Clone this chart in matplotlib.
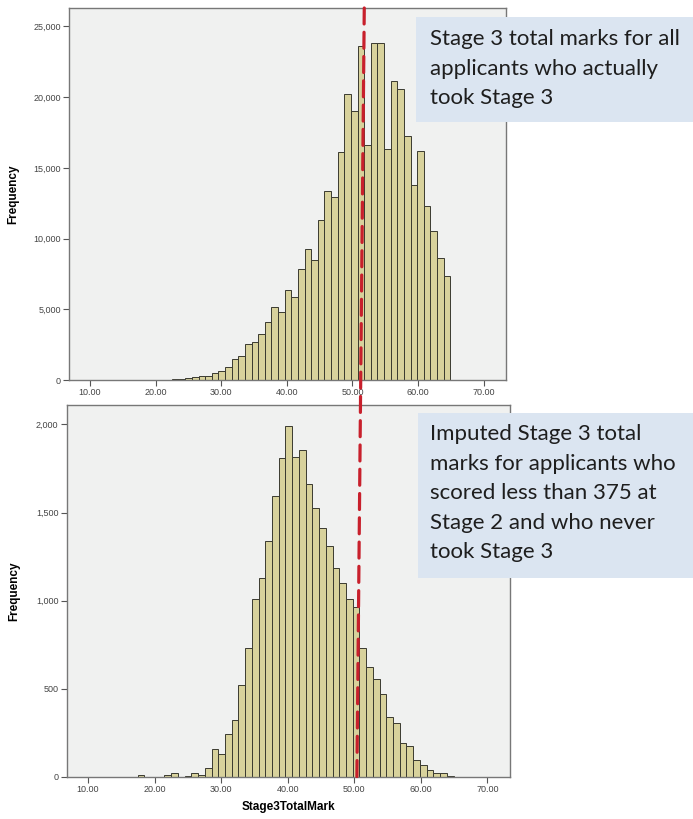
import numpy as np
import matplotlib
matplotlib.use("Agg")
import matplotlib.pyplot as plt
from matplotlib.patches import Rectangle, ConnectionPatch
from matplotlib.ticker import FuncFormatter

# bin labels (integer marks) and counts
marks = np.arange(18, 65)
took_stage3 = [30, 20, 20, 10, 20, 50, 80, 110, 180, 300, 300, 470, 640,
               900, 1460, 1720, 2530, 2660, 3260, 4080, 5190, 4840, 6330, 5900,
               7820, 9280, 8450, 11290, 13370, 12940, 16090, 20220, 19030,
               23620, 16600, 23860, 23860, 16320, 21140, 20550, 17240, 13770,
               16180, 12330, 10530, 8620, 7320]
imputed = [10, 0, 0, 0, 13, 23, 0, 6, 23, 10, 51, 161, 129,
           246, 322, 524, 732, 1012, 1126, 1338, 1595, 1807, 1990, 1813,
           1854, 1661, 1523, 1415, 1309, 1186, 1103, 1012, 965,
           734, 624, 556, 469, 341, 306, 195, 176, 98,
           66, 42, 23, 23, 6]
x_ticks = [10, 20, 30, 40, 50, 60, 70]
top_yticks = [0, 5000, 10000, 15000, 20000, 25000]
bot_yticks = [0, 500, 1000, 1500, 2000]
cutoff_top, cutoff_bottom = 51.8, 50.4   # dashed line drifts slightly

top_note = "Stage 3 total marks for all\napplicants who actually\ntook Stage 3"
bot_note = ("Imputed Stage 3 total\nmarks for applicants who\n"
            "scored less than 375 at\nStage 2 and who never\ntook Stage 3")

bin_w = 1.01
edges = 30.58 + (marks - 31) * bin_w

W, H = 693, 819
fig = plt.figure(figsize=(W / 100, H / 100), dpi=100)
fig.patch.set_facecolor("white")

def px(x0, y0, x1, y1):
    return [x0 / W, 1 - y1 / H, (x1 - x0) / W, (y1 - y0) / H]

ax1 = fig.add_axes(px(69, 8, 506, 380))
ax2 = fig.add_axes(px(66.7, 405, 510, 777))

comma = FuncFormatter(lambda v, p: f"{int(v):,}")
for ax, counts, yt, ytop in [(ax1, took_stage3, top_yticks, 26300),
                             (ax2, imputed, bot_yticks, 2110)]:
    ax.set_facecolor("#f0f1f0")
    ax.bar(edges, counts, width=bin_w, align="edge", color="#d8d29c",
           edgecolor="#3a3a30", linewidth=0.7)
    ax.set_xlim(6.8, 73.4)
    ax.set_ylim(0, ytop)
    ax.set_xticks(x_ticks)
    ax.set_xticklabels([f"{t:.2f}" for t in x_ticks])
    ax.set_yticks(yt)
    ax.yaxis.set_major_formatter(comma)
    ax.tick_params(length=4, width=0.8, color="#555555", labelsize=6.5,
                   labelcolor="#444444", pad=2)
    for s in ax.spines.values():
        s.set_color("#777777")
        s.set_linewidth(1.0)
    ax.set_ylabel("Frequency", fontsize=8.5, fontweight="bold",
                  family="Liberation Sans")
    for lab in ax.get_xticklabels() + ax.get_yticklabels():
        lab.set_family("Liberation Sans")

ax1.yaxis.set_label_coords(-0.114, 0.5)
ax2.yaxis.set_label_coords(-0.105, 0.5)
ax2.set_xlabel("Stage3TotalMark", fontsize=8.5, fontweight="bold",
               family="Liberation Sans", labelpad=5)

# red dashed cut-off line running through both panels
line = ConnectionPatch(xyA=(cutoff_top, 26300), coordsA=ax1.transData,
                       xyB=(cutoff_bottom, 0), coordsB=ax2.transData,
                       color="#c8202c", linewidth=2.3, linestyle=(0, (5, 2.6)),
                       zorder=10)
fig.add_artist(line)

# note boxes
for (x0, y0, x1, y1), note, ty in [((416, 17, 700, 122), top_note, 29),
                                   ((418, 413, 700, 578), bot_note, 424)]:
    fig.add_artist(Rectangle((x0 / W, 1 - y1 / H), (x1 - x0) / W, (y1 - y0) / H,
                             transform=fig.transFigure, facecolor="#dbe5f1",
                             edgecolor="none", zorder=11))
    fig.text(430 / W, 1 - ty / H, note, fontsize=16, family="Lato",
             color="#1e1e1e", va="top", ha="left", linespacing=1.6,
             zorder=12)

fig.savefig("out.png", dpi=100)
